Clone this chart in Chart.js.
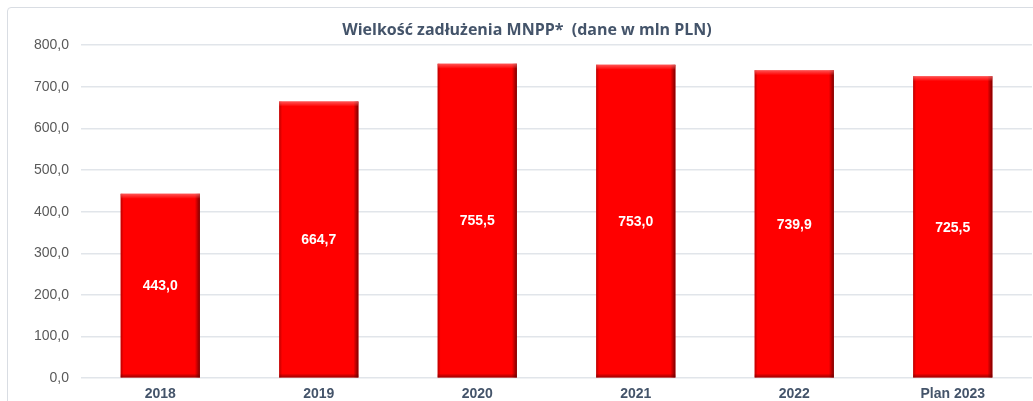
<!DOCTYPE html>
<html>
<head>
<meta charset="utf-8">
<script src="https://cdn.jsdelivr.net/npm/chart.js@4.4.1/dist/chart.umd.min.js"></script>
<style>
  html, body { margin: 0; padding: 0; background: #fff; overflow: hidden; }
  .frame {
    position: absolute; left: 7px; top: 7px; width: 1040px; height: 420px;
    border: 1px solid #d9dde3; border-radius: 4px;
  }
  .wrap { position: absolute; left: 0; top: 0; width: 1033px; height: 403px; }
</style>
</head>
<body>
<div class="frame"></div>
<div class="wrap"><canvas id="chart"></canvas></div>
<script>
const categories = ['2018', '2019', '2020', '2021', '2022', 'Plan 2023'];
const debtValues = [443.0, 664.7, 755.5, 753.0, 739.9, 725.5];
const chartTitle = 'Wielkość zadłużenia MNPP*  (dane w mln PLN)';

const fmt = v => v.toFixed(1).replace('.', ',');

// etykiety w srodku slupkow
const valueLabels = {
  id: 'valueLabels',
  afterDatasetsDraw(chart) {
    const ctx = chart.ctx;
    const meta = chart.getDatasetMeta(0);
    ctx.save();
    ctx.fillStyle = '#ffffff';
    ctx.font = 'bold 14px "Liberation Sans", Arial, sans-serif';
    ctx.textAlign = 'center';
    ctx.textBaseline = 'middle';
    meta.data.forEach((bar, i) => {
      const y = (bar.y + bar.base) / 2 + 1;
      ctx.fillText(fmt(debtValues[i]), bar.x, y);
    });
    ctx.restore();
  }
};

// efekt 3D na krawedziach slupkow
const bevel = {
  id: 'bevel',
  afterDatasetsDraw(chart) {
    const ctx = chart.ctx;
    const meta = chart.getDatasetMeta(0);
    ctx.save();
    meta.data.forEach(bar => {
      const l = bar.x - bar.width / 2, r = bar.x + bar.width / 2;
      const t = bar.y, b = bar.base;
      let g = ctx.createLinearGradient(r - 5, 0, r, 0);
      g.addColorStop(0, 'rgba(90,0,0,0)');
      g.addColorStop(1, 'rgba(90,0,0,0.8)');
      ctx.fillStyle = g;
      ctx.fillRect(r - 5, t, 5, b - t);
      g = ctx.createLinearGradient(l, 0, l + 3, 0);
      g.addColorStop(0, 'rgba(120,0,0,0.5)');
      g.addColorStop(1, 'rgba(120,0,0,0)');
      ctx.fillStyle = g;
      ctx.fillRect(l, t, 3, b - t);
      g = ctx.createLinearGradient(0, t, 0, t + 5);
      g.addColorStop(0, 'rgba(255,120,120,0.7)');
      g.addColorStop(1, 'rgba(255,120,120,0)');
      ctx.fillStyle = g;
      ctx.fillRect(l, t, r - l, 5);
      g = ctx.createLinearGradient(0, b - 4, 0, b);
      g.addColorStop(0, 'rgba(90,0,0,0)');
      g.addColorStop(1, 'rgba(90,0,0,0.6)');
      ctx.fillStyle = g;
      ctx.fillRect(l, b - 4, r - l, 4);
    });
    ctx.restore();
  }
};

new Chart(document.getElementById('chart'), {
  type: 'bar',
  data: {
    labels: categories,
    datasets: [{
      data: debtValues,
      backgroundColor: '#ff0000',
      borderWidth: 0,
      barPercentage: 0.5,
      categoryPercentage: 1.0
    }]
  },
  options: {
    responsive: true,
    maintainAspectRatio: false,
    animation: false,
    layout: { padding: { left: 22, right: 1, top: 8, bottom: 0 } },
    plugins: {
      legend: { display: false },
      tooltip: { enabled: false },
      title: {
        display: true,
        text: chartTitle,
        color: '#44546a',
        font: { family: '"Open Sans", sans-serif', size: 16, weight: 'bold' },
        padding: { top: 13, bottom: 5 }
      }
    },
    scales: {
      x: {
        grid: { display: false },
        border: { display: false },
        ticks: {
          color: '#44546a',
          font: { family: '"Liberation Sans", Arial, sans-serif', size: 14, weight: 'bold' },
          padding: 0
        }
      },
      y: {
        min: 0,
        max: 800,
        ticks: {
          stepSize: 100,
          color: '#595959',
          padding: 12,
          font: { family: '"Liberation Sans", Arial, sans-serif', size: 14 },
          callback: v => fmt(v)
        },
        grid: { color: '#e1e5ea', lineWidth: 1.5, drawTicks: false },
        border: { display: false }
      }
    }
  },
  plugins: [valueLabels, bevel]
});
</script>
</body>
</html>
